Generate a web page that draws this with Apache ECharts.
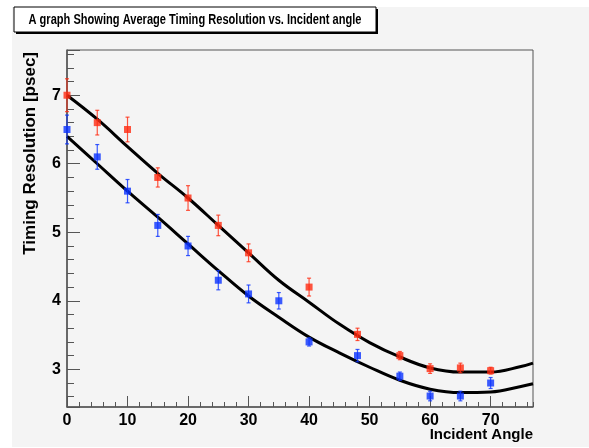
<!DOCTYPE html>
<html>
<head>
<meta charset="utf-8">
<script src="https://cdn.jsdelivr.net/npm/echarts@6/dist/echarts.min.js"></script>
<style>
  html, body { margin: 0; padding: 0; background: #ffffff; }
  #chart { width: 589px; height: 448px; }
</style>
</head>
<body>
<div id="chart"></div>
<script>
// measured points
var angles    = [0, 5, 10, 15, 20, 25, 30, 40, 48, 55, 60, 65, 70];
var redVals   = [7.0, 6.6, 6.5, 5.8, 5.5, 5.1, 4.7, 4.2, 3.51, 3.2, 3.01, 3.02, 2.98];
var redErr    = [0.24, 0.18, 0.18, 0.14, 0.18, 0.15, 0.13, 0.13, 0.09, 0.06, 0.07, 0.07, 0.05];

var blueAngles = [0, 5, 10, 15, 20, 25, 30, 35, 40, 48, 55, 60, 65, 70];
var blueVals   = [6.5, 6.1, 5.6, 5.1, 4.8, 4.3, 4.1, 4.0, 3.4, 3.2, 2.9, 2.61, 2.61, 2.8];
var blueErr    = [0.21, 0.18, 0.17, 0.16, 0.14, 0.14, 0.13, 0.12, 0.06, 0.09, 0.06, 0.07, 0.07, 0.08];

// fit curves
var fitAngles = [0, 5, 10, 15, 20, 25, 30, 35, 40, 45, 50, 55, 60, 65, 70, 75, 77];
var redFit    = [7.0, 6.65, 6.25, 5.86, 5.5, 5.1, 4.7, 4.3, 3.98, 3.66, 3.39, 3.18, 3.02, 2.96, 2.96, 3.04, 3.09];
var blueFit   = [6.4, 6.0, 5.6, 5.22, 4.83, 4.44, 4.07, 3.76, 3.47, 3.24, 3.03, 2.84, 2.71, 2.66, 2.67, 2.75, 2.79];

var titleText = 'A graph Showing Average Timing Resolution vs. Incident angle';
var xTitle = 'Incident Angle';
var yTitle = 'Timing Resolution [psec]';

var RED = '#ff2a10';
var BLUE = '#0a32ff';
var FONT = 'Liberation Sans, Arial, sans-serif';

function pairs(xs, ys) {
    return xs.map(function (x, i) { return [x, ys[i]]; });
}
function errRows(xs, ys, es) {
    return xs.map(function (x, i) { return [x, ys[i], es[i]]; });
}

// squeeze the title like the original
var cv = document.createElement('canvas').getContext('2d');
cv.font = 'bold 14px Liberation Sans';
var titleScale = 333 / cv.measureText(titleText).width;

function errBar(color) {
    return function (params, api) {
        var x = api.value(0), y = api.value(1), e = api.value(2);
        var top = api.coord([x, y + e]);
        var bot = api.coord([x, y - e]);
        var st = { stroke: color, lineWidth: 1.2, opacity: 0.8 };
        return {
            type: 'group',
            children: [
                { type: 'line', shape: { x1: top[0], y1: top[1], x2: bot[0], y2: bot[1] }, style: st },
                { type: 'line', shape: { x1: top[0] - 2, y1: top[1], x2: top[0] + 2, y2: top[1] }, style: st },
                { type: 'line', shape: { x1: bot[0] - 2, y1: bot[1], x2: bot[0] + 2, y2: bot[1] }, style: st }
            ]
        };
    };
}

var labelStyle = { color: '#000', fontFamily: FONT, fontWeight: 'bold', fontSize: 16 };

var myChart = echarts.init(document.getElementById('chart'), null, { renderer: 'canvas' });
var option = {
    animation: false,
    backgroundColor: '#ffffff',
    graphic: [
        { type: 'rect', z: -10, shape: { x: 12, y: 7, width: 577, height: 440 }, style: { fill: '#f4f4f4' } },
        { type: 'rect', z: 10, shape: { x: 16, y: 9, width: 362, height: 25 }, style: { fill: '#000' } },
        { type: 'rect', z: 11, shape: { x: 14, y: 7, width: 362, height: 25 }, style: { fill: '#ffffff', stroke: '#000', lineWidth: 1 } },
        {
            type: 'text', z: 12, x: 195, y: 20, scaleX: titleScale,
            style: { text: titleText, font: 'bold 14px Liberation Sans', fill: '#000', align: 'center', verticalAlign: 'middle' }
        },
        {
            type: 'text', z: 12, x: 533, y: 435,
            style: { text: xTitle, font: 'bold 15px Liberation Sans', fill: '#000', align: 'right', verticalAlign: 'middle' }
        },
        {
            type: 'text', z: 12, x: 30, y: 52, rotation: Math.PI / 2,
            style: { text: yTitle, font: 'bold 17px Liberation Sans', fill: '#000', align: 'right', verticalAlign: 'middle' }
        }
    ],
    grid: {
        left: 67, right: 56, top: 50, bottom: 41,
        show: true, borderColor: '#555', borderWidth: 1, backgroundColor: 'transparent'
    },
    xAxis: [{
        type: 'value', min: 0, max: 77, interval: 10,
        axisLine: { lineStyle: { color: '#555', width: 1.5 } },
        axisTick: { inside: true, length: 11, lineStyle: { color: '#555' } },
        minorTick: { show: false },
        splitLine: { show: false },
        axisLabel: Object.assign({ margin: 6, showMaxLabel: false }, labelStyle)
    }, {
        type: 'value', min: 0, max: 77, interval: 2, position: 'bottom',
        axisLine: { show: false },
        axisTick: { inside: true, length: 5, lineStyle: { color: '#555' } },
        splitLine: { show: false },
        axisLabel: { show: false }
    }],
    yAxis: {
        type: 'value', min: 2.45, max: 7.66, splitNumber: 5,
        axisLine: { show: true, lineStyle: { color: '#555', width: 1.5 } },
        axisTick: { show: true, inside: true, length: 13, lineStyle: { color: '#555' } },
        minorTick: { show: true, splitNumber: 5, length: 7, lineStyle: { color: '#555' } },
        splitLine: { show: false },
        axisLabel: Object.assign({ margin: 6, showMinLabel: false, showMaxLabel: false }, labelStyle)
    },
    series: [
        {
            type: 'line', data: pairs(fitAngles, redFit), smooth: 0.4, showSymbol: false,
            lineStyle: { color: '#000', width: 3 }, z: 3
        },
        {
            type: 'line', data: pairs(fitAngles, blueFit), smooth: 0.4, showSymbol: false,
            lineStyle: { color: '#000', width: 3 }, z: 3
        },
        { type: 'custom', data: errRows(angles, redVals, redErr), renderItem: errBar(RED), z: 4 },
        { type: 'custom', data: errRows(blueAngles, blueVals, blueErr), renderItem: errBar(BLUE), z: 4 },
        {
            type: 'scatter', data: pairs(angles, redVals), symbol: 'rect', symbolSize: 7,
            itemStyle: { color: RED }, z: 5
        },
        {
            type: 'scatter', data: pairs(blueAngles, blueVals), symbol: 'rect', symbolSize: 7,
            itemStyle: { color: BLUE }, z: 5
        }
    ]
};
myChart.setOption(option);
</script>
</body>
</html>
